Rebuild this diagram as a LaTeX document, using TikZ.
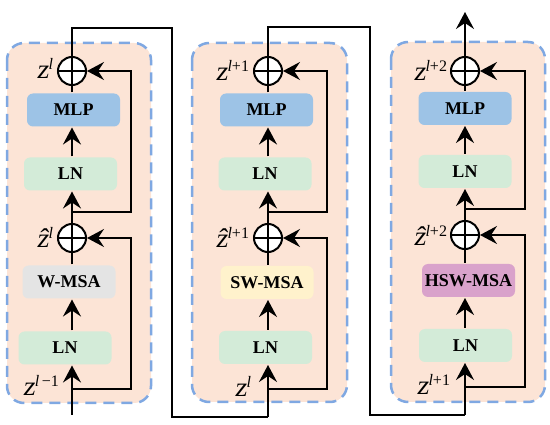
\documentclass[tikz,border=0pt]{standalone}
\usepackage{fontspec}
\setmainfont{Liberation Serif}
\newfontfamily\zfont[FakeSlant=0.15]{Liberation Serif}
\usetikzlibrary{arrows.meta}
\definecolor{panelfill}{HTML}{FCE4D6}
\definecolor{paneldash}{HTML}{7FA8E2}
\definecolor{mlpc}{HTML}{9DC3E6}
\definecolor{lnc}{HTML}{D3EBD8}
\definecolor{wc}{HTML}{E4E4E4}
\definecolor{swc}{HTML}{FFF2CC}
\definecolor{hswc}{HTML}{D9A2CB}
\newcommand\zlab[2]{{\fontsize{27}{27}\selectfont\zfont #1}\raisebox{9pt}{\fontsize{16}{16}\selectfont #2}}
\begin{document}
\begin{tikzpicture}[x=1pt,y=-1pt,
  line width=2pt,
  arr/.style={-{Stealth[length=17pt,width=18pt,inset=6pt]}},
  panel/.style={draw=paneldash,fill=panelfill,line width=2.5pt,dash pattern=on 11pt off 7pt,rounded corners=17pt},
  blk/.style={rounded corners=6pt,minimum width=93pt,minimum height=33pt,inner sep=0pt,font=\bfseries\fontsize{18}{18}\selectfont},
  lnbox/.style={blk,fill=lnc},
  mlpbox/.style={blk,fill=mlpc},
  addc/.style={draw,circle,fill=white,minimum size=28pt,inner sep=0pt},
  zl/.style={anchor=east,inner sep=0pt}]
\useasboundingbox (0,0) rectangle (550,425);
% panels
\draw[panel] (7,43) rectangle (151,403);
\draw[panel] (192,43) rectangle (347,402);
\draw[panel] (391,42) rectangle (545,402);
% ---- panel 1
\node[lnbox] (ln1a) at (65,348) {LN};
\node[blk,fill=wc] (w1) at (69,282) {W-MSA};
\node[lnbox] (ln1b) at (70.5,174) {LN};
\node[mlpbox] (m1) at (73.5,110) {MLP};
\node[addc] (c1b) at (72,238) {};
\node[addc] (c1a) at (72,71) {};
\coordinate (in1) at (72,415);
\coordinate (r1b) at (131,389);
\coordinate (r1a) at (131,212);
% ---- panel 2
\node[lnbox] (ln2a) at (265.5,347.5) {LN};
\node[blk,fill=swc] (w2) at (267,282.5) {SW-MSA};
\node[lnbox] (ln2b) at (265,174) {LN};
\node[mlpbox] (m2) at (266.5,110) {MLP};
\node[addc] (c2b) at (268,238) {};
\node[addc] (c2a) at (268,71) {};
\coordinate (in2) at (268,417);
\coordinate (r2b) at (327,389);
\coordinate (r2a) at (327,212);
% ---- panel 3
\node[lnbox] (ln3a) at (465.5,345.5) {LN};
\node[blk,fill=hswc] (w3) at (468.5,280.5) {HSW-MSA};
\node[lnbox] (ln3b) at (465,171.5) {LN};
\node[mlpbox] (m3) at (465,108.5) {MLP};
\node[addc] (c3b) at (465,235) {};
\node[addc] (c3a) at (465,71) {};
\coordinate (in3) at (465,415);
\coordinate (r3b) at (525,387);
\coordinate (r3a) at (525,209);
\coordinate (out) at (465,12);
% links between panels
\coordinate (t1) at (172,28);
\coordinate (b1) at (172,417);
\coordinate (t2) at (370,27);
\coordinate (b2) at (370,415);
% ---- connectors
\foreach \p in {1,2,3}{
  \draw[arr] (in\p) -- (in\p |- ln\p a.south);
  \draw[arr] (in\p |- ln\p a.north) -- (in\p |- w\p.south);
  \draw (in\p |- w\p.north) -- (c\p b.south);
  \draw[arr] (in\p |- r\p b) -- (r\p b) |- (c\p b.east);
  \draw[arr] (c\p b.north) -- (in\p |- ln\p b.south);
  \draw[arr] (in\p |- r\p a) -- (r\p a) |- (c\p a.east);
  \draw[arr] (in\p |- ln\p b.north) -- (in\p |- m\p.south);
  \draw (in\p |- m\p.north) -- (c\p a.south);
  \draw (c\p a.north) -- (c\p a.south) (c\p a.west) -- (c\p a.east);
  \draw (c\p b.north) -- (c\p b.south) (c\p b.west) -- (c\p b.east);
}
\draw (c1a.north) |- (t1) -- (b1) -- (in2);
\draw (c2a.north) |- (t2) -- (b2) -- (in3);
\draw[arr] (c3a.north) -- (out);
% ---- labels
\node[zl] (lz1a) at (54,68) {\zlab{z}{\itshape l}};
\node[zl] (lz1b) at (54,237) {\zlab{\^{z}}{\itshape l}};
\node[zl] (lz1i) at (60,385) {\zlab{z}{\itshape l\,\upshape−1}};
\node[zl] (lz2a) at (250,70) {\zlab{z}{\itshape l\upshape+1}};
\node[zl] (lz2b) at (250,237) {\zlab{\^{z}}{\itshape l\upshape+1}};
\node[zl] (lz2i) at (252,386) {\zlab{z}{\itshape l}};
\node[zl] (lz3a) at (448,70) {\zlab{z}{\itshape l\upshape+2}};
\node[zl] (lz3b) at (448,235) {\zlab{\^{z}}{\itshape l\upshape+2}};
\node[zl] (lz3i) at (451,384) {\zlab{z}{\itshape l\upshape+1}};
\end{tikzpicture}
\end{document}
